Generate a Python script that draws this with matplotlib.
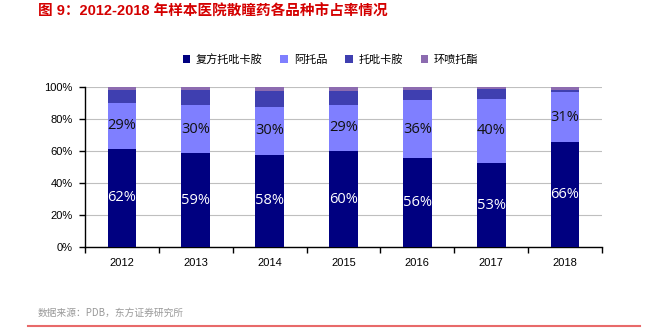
import matplotlib
matplotlib.use("Agg")
import matplotlib.pyplot as plt
import numpy as np

plt.rcParams['font.family'] = ['Liberation Sans', 'Noto Sans CJK SC', 'DejaVu Sans']

years = ['2012', '2013', '2014', '2015', '2016', '2017', '2018']
series_names = ['复方托吡卡胺', '阿托品', '托吡卡胺', '环喷托酯']
fufang = [61.6, 58.6, 57.8, 60.0, 55.8, 52.6, 65.8]
atropine = [28.8, 30.3, 30.0, 29.2, 36.1, 40.3, 31.2]
tropicamide = [8.2, 9.5, 10.0, 8.6, 6.6, 6.0, 1.3]
cyclopentolate = [1.4, 1.6, 2.2, 2.2, 1.5, 1.1, 1.7]
ytick_labels = ['0%', '20%', '40%', '60%', '80%', '100%']

colors = ['#000080', '#7F7FFF', '#3F3FB0', '#8C6BB0']
series = [fufang, atropine, tropicamide, cyclopentolate]

fig = plt.figure(figsize=(6.61, 3.32), dpi=100)
ax = fig.add_axes([0.1286, 0.256, 0.782, 0.481])

x = np.arange(len(years))
bottom = np.zeros(len(years))
for name, vals, c in zip(series_names, series, colors):
    v = np.array(vals) / 100.0
    ax.bar(x, v, width=0.39, bottom=bottom, color=c, label=name, zorder=3)
    if name == '复方托吡卡胺':
        for xi, b, h, raw in zip(x, bottom, v, vals):
            ax.text(xi, b + h / 2, f"{round(raw):d}%", ha='center', va='center',
                    color='white', fontsize=10.5, family=['Open Sans', 'DejaVu Sans'], zorder=4)
    elif name == '阿托品':
        for xi, b, h, raw in zip(x, bottom, v, vals):
            ax.text(xi, b + h / 2, f"{round(raw):d}%", ha='center', va='center',
                    color='#111111', fontsize=10.5, family=['Open Sans', 'DejaVu Sans'], zorder=4)
    bottom += v

ax.set_xlim(-0.5, len(years) - 0.5)
ax.set_ylim(0, 1.0)
ax.set_yticks(np.linspace(0, 1, 6))
ax.set_yticklabels(ytick_labels, fontsize=8)
ax.set_xticks(x)
ax.set_xticklabels(years, fontsize=8)
ax.tick_params(axis='x', length=0, pad=8)
ax.set_xticks(np.arange(-0.5, len(years), 1.0), minor=True)
ax.tick_params(axis='x', which='minor', length=4, width=1, color='black', direction='out')
ax.tick_params(axis='y', length=4, width=1, color='black', direction='out', pad=5)
ax.grid(axis='y', color='#BFBFBF', linewidth=0.8, zorder=0)
for s in ['top', 'right']:
    ax.spines[s].set_visible(False)
ax.spines['left'].set_linewidth(1)
ax.spines['bottom'].set_linewidth(1)

leg = fig.legend(loc='center', bbox_to_anchor=(0.5, 0.822), ncol=4, frameon=False,
                 handlelength=0.7, handleheight=0.7, handletextpad=0.5,
                 columnspacing=1.6, prop={'family': ['Noto Sans CJK SC'], 'size': 8})

fig.text(0.057, 0.964, '图 9：2012-2018 年样本医院散瞳药各品种市占率情况', color='#D40000',
         fontsize=10.5, fontweight='bold', ha='left', va='center',
         family=['Liberation Sans', 'Noto Sans CJK SC', 'DejaVu Sans'])
fig.text(0.057, 0.057, '数据来源：PDB，东方证券研究所', color='#999999', fontsize=7,
         ha='left', va='center', family=['Noto Sans CJK SC', 'DejaVu Sans'])
fig.add_artist(plt.Line2D([0.042, 0.968], [0.018, 0.018], color='#E86A6A', linewidth=1.5,
                          transform=fig.transFigure))

fig.savefig('out.png', dpi=100)
